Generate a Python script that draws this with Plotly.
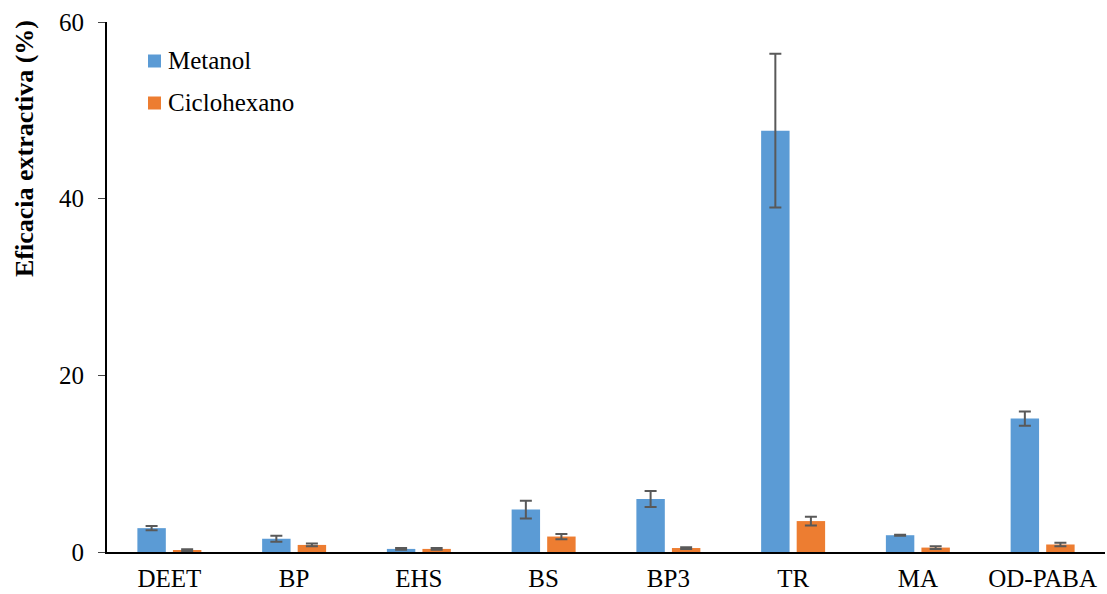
import plotly.graph_objects as go

# Compuestos analizados
categorias = ["DEET", "BP", "EHS", "BS", "BP3", "TR", "MA", "OD-PABA"]

# Eficacia extractiva (%) y desviación para cada disolvente
metanol = [2.7, 1.5, 0.35, 4.8, 6.0, 47.7, 1.9, 15.1]
metanol_err = [0.25, 0.35, 0.1, 1.0, 0.9, 8.7, 0.05, 0.8]
ciclohexano = [0.2, 0.8, 0.35, 1.75, 0.45, 3.5, 0.5, 0.85]
ciclohexano_err = [0.1, 0.15, 0.1, 0.3, 0.1, 0.5, 0.15, 0.2]

series = ["Metanol", "Ciclohexano"]
colores = ["#5B9BD5", "#ED7D31"]
titulo_y = "Eficacia extractiva (%)"

fuente = "Liberation Serif"
err_style = dict(type="data", color="#595959", thickness=2, width=6)

L, R, T, B = 107, 2, 22, 42
W, H = 1107, 594
pw, ph = W - L - R, H - T - B


def px_x(px):
    return (px - L) / pw


def px_y(py):
    return (H - B - py) / ph


fig = go.Figure()
for nombre, vals, errs, col in [
    (series[0], metanol, metanol_err, colores[0]),
    (series[1], ciclohexano, ciclohexano_err, colores[1]),
]:
    fig.add_trace(go.Bar(
        x=categorias, y=vals, name=nombre, showlegend=False,
        marker=dict(color=col, line=dict(width=0)),
        error_y=dict(array=errs, **err_style),
    ))

# Leyenda: cuadro de color + texto
for i, (nombre, col) in enumerate(zip(series, colores)):
    cy = 61 + i * 42
    fig.add_shape(type="rect", xref="paper", yref="paper",
                  x0=px_x(148), x1=px_x(161),
                  y0=px_y(cy + 6.5), y1=px_y(cy - 6.5),
                  fillcolor=col, line=dict(width=0))
    fig.add_annotation(xref="paper", yref="paper",
                       x=px_x(166), y=px_y(cy),
                       xanchor="left", yanchor="middle", showarrow=False,
                       text=nombre,
                       font=dict(family=fuente, size=25, color="black"))

# Título del eje Y, alineado hacia la parte superior
fig.add_annotation(xref="paper", yref="paper",
                   x=px_x(25), y=px_y(149),
                   xanchor="center", yanchor="middle", showarrow=False,
                   textangle=-90, text="<b>" + titulo_y + "</b>",
                   font=dict(family=fuente, size=26, color="black"))

fig.update_layout(
    width=W, height=H,
    margin=dict(l=L, r=R, t=T, b=B),
    paper_bgcolor="white", plot_bgcolor="white",
    barmode="group", bargap=0.43, bargroupgap=0.2,
    font=dict(family=fuente, size=25, color="black"),
    xaxis=dict(
        showline=True, linecolor="black", linewidth=2,
        ticks="", showgrid=False, ticklabelstandoff=3, automargin=False,
        tickfont=dict(family=fuente, size=25, color="black"),
    ),
    yaxis=dict(
        range=[0, 60], tickvals=[0, 20, 40, 60],
        showline=True, linecolor="black", linewidth=2,
        ticks="outside", ticklen=7, tickwidth=1, tickcolor="#444",
        showgrid=False, zeroline=False, ticklabelstandoff=9, automargin=False,
        tickfont=dict(family=fuente, size=25, color="black"),
    ),
)

fig.write_html("out.html")
